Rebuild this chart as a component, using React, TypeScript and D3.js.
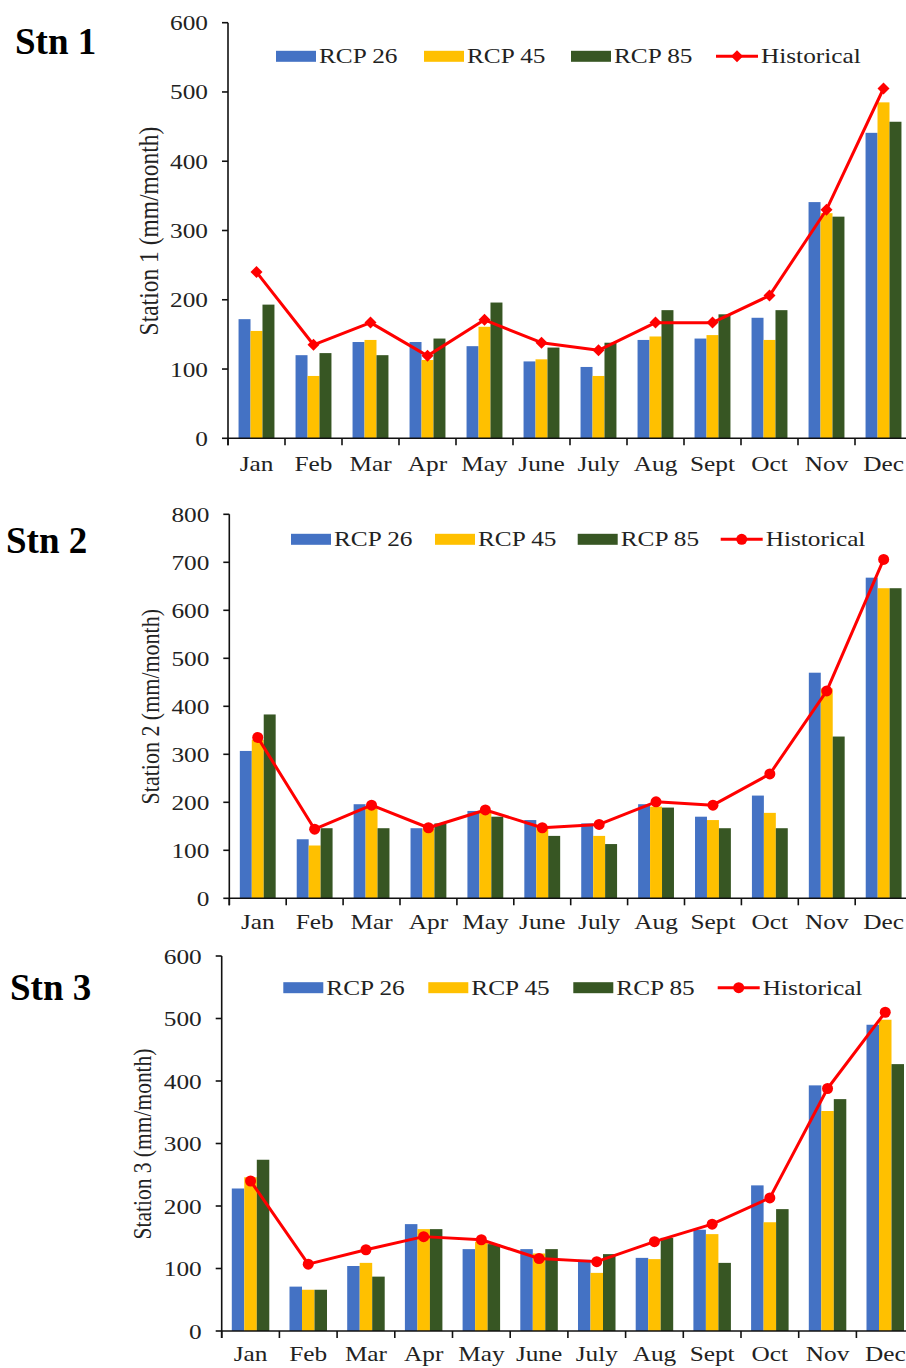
import React from "react";
import * as d3 from "d3";

const months = ["Jan", "Feb", "Mar", "Apr", "May", "June", "July", "Aug", "Sept", "Oct", "Nov", "Dec"];
const seriesNames = ["RCP 26", "RCP 45", "RCP 85"];
const histName = "Historical";

const stn1Rcp26 = [172, 120, 139, 139, 133, 111, 103, 142, 144, 174, 341, 441];
const stn1Rcp45 = [155, 90, 142, 113, 161, 114, 90, 147, 149, 142, 325, 485];
const stn1Rcp85 = [193, 123, 120, 144, 196, 131, 138, 185, 179, 185, 320, 457];
const stn1Hist = [240, 135, 167, 119, 171, 138, 127, 167, 167, 206, 330, 505];

const stn2Rcp26 = [307, 123, 196, 146, 182, 163, 156, 196, 170, 214, 470, 668];
const stn2Rcp45 = [330, 110, 190, 145, 180, 150, 130, 191, 163, 178, 437, 646];
const stn2Rcp85 = [383, 146, 146, 156, 170, 130, 113, 189, 146, 146, 337, 646];
const stn2Hist = [335, 144, 194, 147, 184, 147, 154, 201, 194, 259, 432, 706];

const stn3Rcp26 = [228, 71, 104, 171, 131, 131, 114, 117, 162, 233, 393, 490];
const stn3Rcp45 = [246, 66, 109, 163, 143, 124, 93, 115, 155, 174, 352, 498];
const stn3Rcp85 = [274, 66, 87, 163, 139, 131, 123, 149, 109, 195, 371, 427];
const stn3Hist = [240, 107, 130, 151, 146, 116, 111, 143, 171, 213, 388, 510];

const yTicks1 = [0, 100, 200, 300, 400, 500, 600];
const yTicks2 = [0, 100, 200, 300, 400, 500, 600, 700, 800];
const yTicks3 = [0, 100, 200, 300, 400, 500, 600];

const COLORS = ["#4472C4", "#FFC000", "#375623"];
const RED = "#FF0000";
const FONT = "'Liberation Serif', 'Times New Roman', serif";
const SX = 1.15;

type Panel = {
  title: string;
  yTitle: string;
  series: number[][];
  hist: number[];
  ticks: number[];
  marker: "diamond" | "circle";
  x0: number;
  bw: number;
  yTop: number;
  yBot: number;
  legendY: number;
  legendX: number[];
  titleX: number;
  titleY: number;
  yTitleX: number;
  yTitleY: number;
  yTitleSize: number;
  monthY: number;
  groupFrac: number;
};

const panels: Panel[] = [
  {
    title: "Stn 1",
    yTitle: "Station 1 (mm/month)",
    series: [stn1Rcp26, stn1Rcp45, stn1Rcp85],
    hist: stn1Hist,
    ticks: yTicks1,
    marker: "diamond",
    x0: 228,
    bw: 57,
    yTop: 22.7,
    yBot: 438.3,
    legendY: 56.3,
    legendX: [276, 424, 571, 716],
    titleX: 15,
    titleY: 54,
    yTitleX: 158,
    yTitleY: 231,
    yTitleSize: 23.5,
    monthY: 471,
    groupFrac: 0.63,
  },
  {
    title: "Stn 2",
    yTitle: "Station 2 (mm/month)",
    series: [stn2Rcp26, stn2Rcp45, stn2Rcp85],
    hist: stn2Hist,
    ticks: yTicks2,
    marker: "circle",
    x0: 229.3,
    bw: 56.9,
    yTop: 514.3,
    yBot: 898.3,
    legendY: 539.3,
    legendX: [291, 435, 577.7, 720.7],
    titleX: 6,
    titleY: 552.7,
    yTitleX: 159,
    yTitleY: 706.7,
    yTitleSize: 22,
    monthY: 929,
    groupFrac: 0.63,
  },
  {
    title: "Stn 3",
    yTitle: "Station 3 (mm/month)",
    series: [stn3Rcp26, stn3Rcp45, stn3Rcp85],
    hist: stn3Hist,
    ticks: yTicks3,
    marker: "circle",
    x0: 221.7,
    bw: 57.7,
    yTop: 956,
    yBot: 1331,
    legendY: 987.7,
    legendX: [283.3, 428.3, 573.3, 717.7],
    titleX: 10,
    titleY: 1000,
    yTitleX: 151,
    yTitleY: 1144,
    yTitleSize: 21.5,
    monthY: 1361,
    groupFrac: 0.65,
  },
];

function SText(props: {
  x: number;
  y: number;
  anchor?: string;
  size: number;
  weight?: string | number;
  fill?: string;
  rotate?: number;
  sx?: number;
  children: React.ReactNode;
}) {
  const { x, y, anchor = "start", size, weight = "normal", fill = "#222", rotate = 0, sx = SX } = props;
  return (
    <text
      transform={`translate(${x},${y}) scale(${sx},1)${rotate ? ` rotate(${rotate})` : ""}`}
      textAnchor={anchor}
      fontFamily={FONT}
      fontSize={size}
      fontWeight={weight}
      fill={fill}
    >
      {props.children}
    </text>
  );
}

function Marker({ kind, x, y }: { kind: "diamond" | "circle"; x: number; y: number }) {
  if (kind === "circle") return <circle cx={x} cy={y} r={5.5} fill={RED} />;
  const p = d3.symbol(d3.symbolSquare, 72)() || "";
  return <path d={p} transform={`translate(${x},${y}) rotate(45)`} fill={RED} />;
}

function ChartPanel({ p }: { p: Panel }) {
  const yMax = p.ticks[p.ticks.length - 1];
  const x = d3.scaleBand<string>().domain(months).range([p.x0, p.x0 + p.bw * months.length]).padding(0);
  const gw = x.bandwidth() * p.groupFrac;
  const xs = d3.scaleBand<string>().domain(seriesNames).range([0, gw]).padding(0);
  const y = d3.scaleLinear().domain([0, yMax]).range([p.yBot, p.yTop]);
  const line = d3
    .line<number>()
    .x((_, i) => (x(months[i]) as number) + x.bandwidth() / 2)
    .y((v) => y(v));
  const boundaries = d3.range(months.length + 1).map((i) => p.x0 + i * x.bandwidth());
  const right = p.x0 + p.bw * months.length;

  return (
    <g>
      <SText x={p.titleX} y={p.titleY} size={37} weight="bold" fill="#000" sx={1}>
        {p.title}
      </SText>
      {/* bars */}
      {p.series.map((vals, si) =>
        vals.map((v, i) => (
          <rect
            key={`${si}-${i}`}
            x={(x(months[i]) as number) + (x.bandwidth() - gw) / 2 + (xs(seriesNames[si]) as number)}
            y={y(v)}
            width={xs.bandwidth()}
            height={p.yBot - y(v)}
            fill={COLORS[si]}
          />
        ))
      )}
      {/* axes */}
      <line x1={p.x0} x2={p.x0} y1={p.yTop} y2={p.yBot + 7} stroke="#111" strokeWidth={1.6} />
      <line x1={p.x0} x2={right} y1={p.yBot} y2={p.yBot} stroke="#111" strokeWidth={1.6} />
      {p.ticks.map((t) => (
        <g key={t}>
          <line x1={p.x0 - 6} x2={p.x0} y1={y(t)} y2={y(t)} stroke="#111" strokeWidth={1.6} />
          <SText x={p.x0 - 20} y={y(t) + 7.5} anchor="end" size={22}>
            {t}
          </SText>
        </g>
      ))}
      {boundaries.map((b, i) => (
        <line key={i} x1={b} x2={b} y1={p.yBot} y2={p.yBot + 7} stroke="#111" strokeWidth={1.6} />
      ))}
      {months.map((m) => (
        <SText key={m} x={(x(m) as number) + x.bandwidth() / 2} y={p.monthY} anchor="middle" size={22}>
          {m}
        </SText>
      ))}
      {/* historical line */}
      <path d={line(p.hist) || ""} fill="none" stroke={RED} strokeWidth={3} strokeLinejoin="round" />
      {p.hist.map((v, i) => (
        <Marker key={i} kind={p.marker} x={(x(months[i]) as number) + x.bandwidth() / 2} y={y(v)} />
      ))}
      {/* y title */}
      <SText x={p.yTitleX} y={p.yTitleY} anchor="middle" size={p.yTitleSize} rotate={-90}>
        {p.yTitle}
      </SText>
      {/* legend */}
      {seriesNames.map((s, si) => (
        <g key={s}>
          <rect x={p.legendX[si]} y={p.legendY - 5.5} width={40} height={11} fill={COLORS[si]} />
          <SText x={p.legendX[si] + 43} y={p.legendY + 7} size={22}>
            {s}
          </SText>
        </g>
      ))}
      <line x1={p.legendX[3]} x2={p.legendX[3] + 42} y1={p.legendY} y2={p.legendY} stroke={RED} strokeWidth={3} />
      <Marker kind={p.marker} x={p.legendX[3] + 21} y={p.legendY} />
      <SText x={p.legendX[3] + 45} y={p.legendY + 7} size={22}>
        {histName}
      </SText>
    </g>
  );
}

export default function App() {
  return (
    <svg
      width={906}
      height={1368}
      viewBox="0 0 906 1368"
      style={{ position: "absolute", left: 0, top: 0, background: "#fff" }}
    >
      <rect x={0} y={0} width={906} height={1368} fill="#fff" />
      {panels.map((p) => (
        <ChartPanel key={p.title} p={p} />
      ))}
    </svg>
  );
}
